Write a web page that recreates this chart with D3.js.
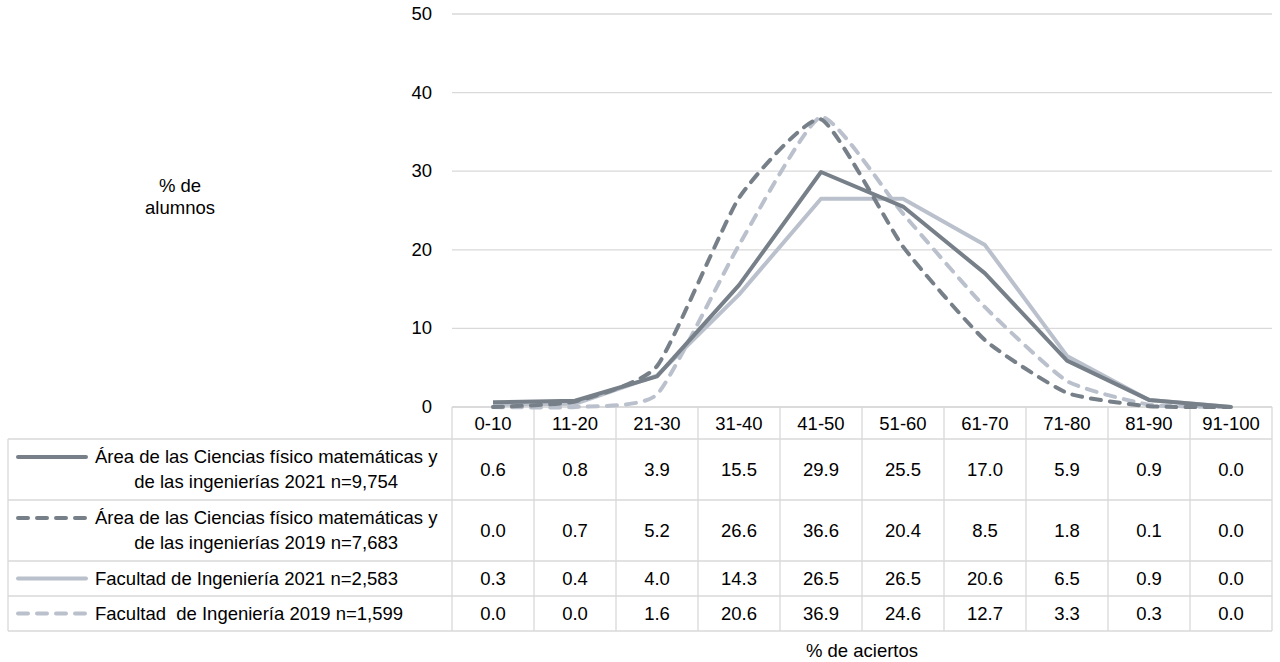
<!DOCTYPE html>
<html><head><meta charset="utf-8">
<script src="https://cdn.jsdelivr.net/npm/d3@7"></script>
<style>body{margin:0;background:#fff}svg{display:block}text{font-family:"Liberation Sans",Arial,sans-serif;fill:#000}</style>
</head><body><svg id="c" width="1280" height="662"></svg>
<script>
const categories = ["0-10","11-20","21-30","31-40","41-50","51-60","61-70","71-80","81-90","91-100"];
const area2021 = [0.6,0.8,3.9,15.5,29.9,25.5,17.0,5.9,0.9,0.0];
const area2019 = [0.0,0.7,5.2,26.6,36.6,20.4,8.5,1.8,0.1,0.0];
const fac2021 = [0.3,0.4,4.0,14.3,26.5,26.5,20.6,6.5,0.9,0.0];
const fac2019 = [0.0,0.0,1.6,20.6,36.9,24.6,12.7,3.3,0.3,0.0];
const seriesNames = [
  ["Área de las Ciencias físico matemáticas y","de las ingenierías 2021 n=9,754"],
  ["Área de las Ciencias físico matemáticas y","de las ingenierías 2019 n=7,683"],
  ["Facultad de Ingeniería 2021 n=2,583"],
  ["Facultad  de Ingeniería 2019 n=1,599"]
];
const yTicks = [0,10,20,30,40,50];

const series = [
  {name:seriesNames[0], values:area2021, color:"#778089", dash:null, smooth:false},
  {name:seriesNames[1], values:area2019, color:"#778089", dash:"10,9", smooth:true},
  {name:seriesNames[2], values:fac2021, color:"#BAC1CC", dash:null, smooth:false},
  {name:seriesNames[3], values:fac2019, color:"#BAC1CC", dash:"10,9", smooth:true}
];

const svg = d3.select("#c");
const L = 452, R = 1272, T = 14, B = 407;
const x = d3.scaleBand().domain(categories).range([L,R]);
const y = d3.scaleLinear().domain([0,50]).range([B,T]);
const grid = "#d9d9d9";
const fs = 18.5;

// gridlines
svg.append("g").selectAll("line").data(yTicks).join("line")
  .attr("x1",L).attr("x2",R).attr("y1",d=>y(d)).attr("y2",d=>y(d))
  .attr("stroke",grid).attr("stroke-width",1.3);
svg.append("g").selectAll("text").data(yTicks).join("text")
  .attr("x",432).attr("y",d=>y(d)+6).attr("text-anchor","end").attr("font-size",fs).text(d=>d);

// y title
svg.append("text").attr("x",180).attr("y",192).attr("text-anchor","middle").attr("font-size",fs).text("% de");
svg.append("text").attr("x",180).attr("y",214).attr("text-anchor","middle").attr("font-size",fs).text("alumnos");

// table
const rows = [[439,500],[500,561],[561,596],[596,631]];
const tg = svg.append("g");
tg.append("line").attr("x1",L).attr("x2",R).attr("y1",B).attr("y2",B).attr("stroke",grid).attr("stroke-width",1.3);
[439,500,561,596,631].forEach(v=>{
  tg.append("line").attr("x1",8).attr("x2",R).attr("y1",v).attr("y2",v).attr("stroke",grid).attr("stroke-width",1.3);
});
tg.append("line").attr("x1",8).attr("x2",8).attr("y1",439).attr("y2",631).attr("stroke",grid).attr("stroke-width",1.3);
categories.forEach(c=>{
  tg.append("line").attr("x1",x(c)).attr("x2",x(c)).attr("y1",B).attr("y2",631).attr("stroke",grid).attr("stroke-width",1.3);
});
tg.append("line").attr("x1",R).attr("x2",R).attr("y1",B).attr("y2",631).attr("stroke",grid).attr("stroke-width",1.3);

tg.selectAll("text.h").data(categories).join("text").attr("class","h")
  .attr("x",d=>x(d)+x.bandwidth()/2).attr("y",430).attr("text-anchor","middle").attr("font-size",fs).text(d=>d);

series.forEach((s,i)=>{
  const [y0,y1] = rows[i];
  const mid = (y0+y1)/2;
  tg.selectAll("text.v"+i).data(s.values).join("text").attr("class","v"+i)
    .attr("x",(d,j)=>x(categories[j])+x.bandwidth()/2).attr("y",mid+6)
    .attr("text-anchor","middle").attr("font-size",fs).text(d=>d.toFixed(1));
  const lines = s.name;
  const lh = 25;
  const firstY = mid - (lines.length-1)*lh/2;
  const tmp = lines.map((t,k)=>tg.append("text").attr("font-size",fs).attr("y",firstY+k*lh+6).attr("xml:space","preserve").style("white-space","pre").text(t));
  const w = d3.max(tmp,t=>t.node().getComputedTextLength());
  const cxx = 95 + w/2;
  tmp.forEach(t=>t.attr("x",cxx).attr("text-anchor","middle"));
  tg.append("line").attr("x1",18).attr("x2",86).attr("y1",firstY).attr("y2",firstY)
    .attr("stroke",s.color).attr("stroke-width",4).attr("stroke-linecap","round")
    .attr("stroke-dasharray",s.dash);
});

const cx = c=>x(c)+x.bandwidth()/2;
[3,2,1,0].forEach(i=>{
  const s = series[i];
  const gen = d3.line().x((d,j)=>cx(categories[j])).y(d=>y(d))
    .curve(s.smooth ? d3.curveCardinal.tension(0.5) : d3.curveLinear);
  svg.append("path").attr("d",gen(s.values)).attr("fill","none")
    .attr("stroke",s.color).attr("stroke-width",4).attr("stroke-linecap",s.dash?"round":"butt")
    .attr("stroke-linejoin","round").attr("stroke-dasharray",s.dash);
});

svg.append("text").attr("x",862).attr("y",657).attr("text-anchor","middle").attr("font-size",fs).text("% de aciertos");
</script></body></html>
